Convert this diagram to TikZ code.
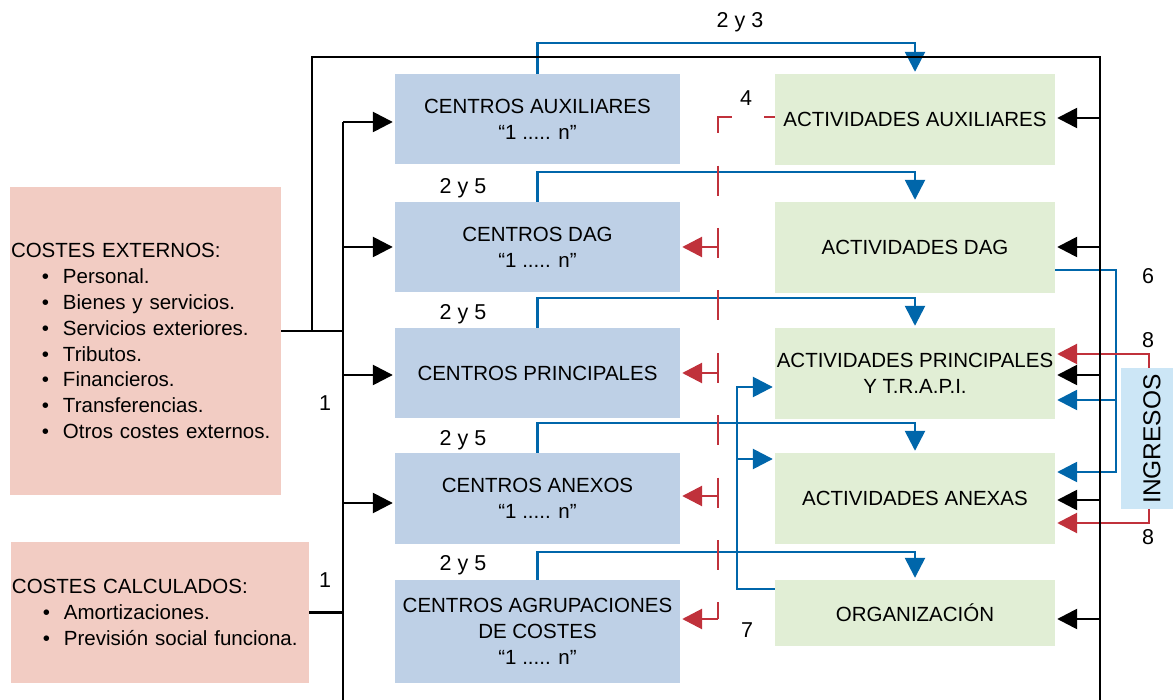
\documentclass[tikz,border=0pt]{standalone}
\usepackage{fontspec}
\setmainfont{Liberation Sans}
\usetikzlibrary{arrows.meta}
\definecolor{cblue}{RGB}{190,208,230}
\definecolor{cgreen}{RGB}{225,238,213}
\definecolor{cpink}{RGB}{242,204,195}
\definecolor{cingr}{RGB}{204,230,246}
\definecolor{lblue}{RGB}{0,102,170}
\definecolor{lred}{RGB}{192,49,59}
\newcommand\mybul{\hspace*{31pt}\makebox[21pt][l]{•}}
\begin{document}
\begin{tikzpicture}[x=1pt,y=-1pt,
  every node/.style={font=\fontsize{20.5}{26}\selectfont, inner sep=0pt, align=center},
  cbox/.style={fill=cblue, minimum width=285pt},
  abox/.style={fill=cgreen, minimum width=280pt},
  pbox/.style={fill=cpink, align=left, inner xsep=1pt, font=\fontsize{20.5}{25.9}\selectfont},
  bline/.style={line width=2.6pt, black},
  barrow/.style={bline, -{Triangle[length=20pt,width=20pt]}, shorten >=2pt},
  blline/.style={line width=2.6pt, lblue},
  blarrow/.style={blline, -{Triangle[length=20pt,width=20pt]}, shorten >=2pt},
  rline/.style={line width=2.8pt, lred},
  rarrow/.style={rline, -{Triangle[length=20pt,width=20pt]}, shorten >=2pt},
  lbl/.style={font=\fontsize{21.5}{26}\selectfont, anchor=base}
]
\useasboundingbox (0,0) rectangle (1173,700);

% boxes
\node[pbox, minimum width=271pt, minimum height=308pt, text width=269pt] (cext) at (145.5,341)
  {COSTES EXTERNOS:\\\mybul Personal.\\\mybul Bienes y servicios.\\\mybul Servicios exteriores.\\\mybul Tributos.\\\mybul Financieros.\\\mybul Transferencias.\\\mybul Otros costes externos.};
\node[pbox, minimum width=298pt, minimum height=141pt, text width=296pt] (ccalc) at (160,612.5)
  {COSTES CALCULADOS:\\\mybul Amortizaciones.\\\mybul Previsión social funciona.};

\node[cbox, minimum height=90pt] (caux) at (537.5,119) {CENTROS AUXILIARES\\“1 ..... n”};
\node[cbox, minimum height=90pt] (cdag) at (537.5,247) {CENTROS DAG\\“1 ..... n”};
\node[cbox, minimum height=90pt] (cprin) at (537.5,373) {CENTROS PRINCIPALES};
\node[cbox, minimum height=91pt] (canex) at (537.5,498.5) {CENTROS ANEXOS\\“1 ..... n”};
\node[cbox, minimum height=103pt] (cagr) at (537.5,631.5) {CENTROS AGRUPACIONES\\DE COSTES\\“1 ..... n”};

\node[abox, minimum height=91pt] (aaux) at (915,119.5) {ACTIVIDADES AUXILIARES};
\node[abox, minimum height=91pt] (adag) at (915,247.5) {ACTIVIDADES DAG};
\node[abox, minimum height=91pt] (aprin) at (915,373.5) {ACTIVIDADES PRINCIPALES\\Y T.R.A.P.I.};
\node[abox, minimum height=91pt] (aanex) at (915,498.5) {ACTIVIDADES ANEXAS};
\node[abox, minimum height=66pt] (aorg) at (915,613) {ORGANIZACIÓN};

\node[fill=cingr, minimum width=52pt, minimum height=141pt] (ingr) at (1147,438.5) {};
\node[rotate=90, font=\fontsize{24.5}{28}\selectfont] (ingrt) at (1152,439) {INGRESOS};

% coordinates
\coordinate (fJ) at (312,331);
\coordinate (fTR) at (1100,57);
\coordinate (fBR) at (1100,700);
\coordinate (jE) at (343,331);
\coordinate (lbTop) at (343,122);
\coordinate (lbBot) at (343,700);
\coordinate (la1) at (343,122);
\coordinate (la2) at (343,247);
\coordinate (la3) at (343,375);
\coordinate (la4) at (343,503);
\coordinate (ra1) at (1100,118);
\coordinate (ra2) at (1100,247);
\coordinate (ra3) at (1100,375);
\coordinate (ra4) at (1100,500);
\coordinate (ra5) at (1100,619);
\coordinate (t1) at (537.5,43);
\coordinate (t2) at (537.5,172);
\coordinate (t3) at (537.5,298);
\coordinate (t4) at (537.5,423);
\coordinate (t5) at (537.5,552);
\coordinate (b6a) at (1116,270);
\coordinate (b6b) at (1116,400);
\coordinate (b6c) at (1116,472);
\coordinate (b7a) at (737,589);
\coordinate (b7b) at (737,459);
\coordinate (b7c) at (737,387);
\coordinate (r8a) at (1149,354);
\coordinate (r8b) at (1149,523);
\coordinate (rdTop) at (718,117);
\coordinate (rdBot) at (718,619);
\coordinate (rr1) at (718,247);
\coordinate (rr2) at (718,373);
\coordinate (rr3) at (718,496);

% blue connectors
\draw[blarrow] (caux.north) -- (t1) -| (aaux.north);
\draw[blarrow] (cdag.north) -- (t2) -| (adag.north);
\draw[blarrow] (cprin.north) -- (t3) -| (aprin.north);
\draw[blarrow] (canex.north) -- (t4) -| (aanex.north);
\draw[blarrow] (cagr.north) -- (t5) -| (aorg.north);
\draw[blarrow] (b6a -| adag.east) -- (b6a) -- (b6c) -- (b6c -| aanex.east);
\draw[blarrow] (b6b) -- (b6b -| aprin.east);
\draw[blarrow] (b7a -| aorg.west) -- (b7a) -- (b7c) -- (b7c -| aprin.west);
\draw[blarrow] (b7b) -- (b7b -| aanex.west);

% red connectors
\draw[rline, dash pattern=on 30pt off 32.4pt, dash phase=19.4pt] (rdTop -| aaux.west) -- (rdTop) -- (rdBot);
\draw[rarrow] (rr1) -- (rr1 -| cdag.east);
\draw[rarrow] (rr2) -- (rr2 -| cprin.east);
\draw[rarrow] (rr3) -- (rr3 -| canex.east);
\draw[rarrow] (rdBot) -- (rdBot -| cagr.east);
\draw[rarrow] (r8a |- ingr.north) -- (r8a) -- (r8a -| aprin.east);
\draw[rarrow] (r8b |- ingr.south) -- (r8b) -- (r8b -| aanex.east);

% black connectors
\draw[bline] ([yshift=10pt]cext.east) -- (jE);
\draw[bline] (fJ) |- (fTR) -- (fBR);
\draw[bline] (lbTop) -- (lbBot);
\draw[bline] (ccalc.east) -- (ccalc.east -| lbTop);
\draw[barrow] (la1) -- (la1 -| caux.west);
\draw[barrow] (la2) -- (la2 -| cdag.west);
\draw[barrow] (la3) -- (la3 -| cprin.west);
\draw[barrow] (la4) -- (la4 -| canex.west);
\draw[barrow] (ra1) -- (ra1 -| aaux.east);
\draw[barrow] (ra2) -- (ra2 -| adag.east);
\draw[barrow] (ra3) -- (ra3 -| aprin.east);
\draw[barrow] (ra4) -- (ra4 -| aanex.east);
\draw[barrow] (ra5) -- (ra5 -| aorg.east);

% labels
\node[lbl] (l23) at (740,27.5) {2 y 3};
\node[lbl] (l25a) at (463,193.5) {2 y 5};
\node[lbl] (l25b) at (463,319.5) {2 y 5};
\node[lbl] (l25c) at (463,445.5) {2 y 5};
\node[lbl] (l25d) at (463,570.5) {2 y 5};
\node[lbl] (l4) at (746,105.5) {4};
\node[lbl] (l6) at (1148,283.5) {6};
\node[lbl] (l8a) at (1148,347.5) {8};
\node[lbl] (l8b) at (1148,544.5) {8};
\node[lbl] (l7) at (747,637.5) {7};
\node[lbl] (l1a) at (325,410.5) {1};
\node[lbl] (l1b) at (325,587.5) {1};
\end{tikzpicture}
\end{document}
